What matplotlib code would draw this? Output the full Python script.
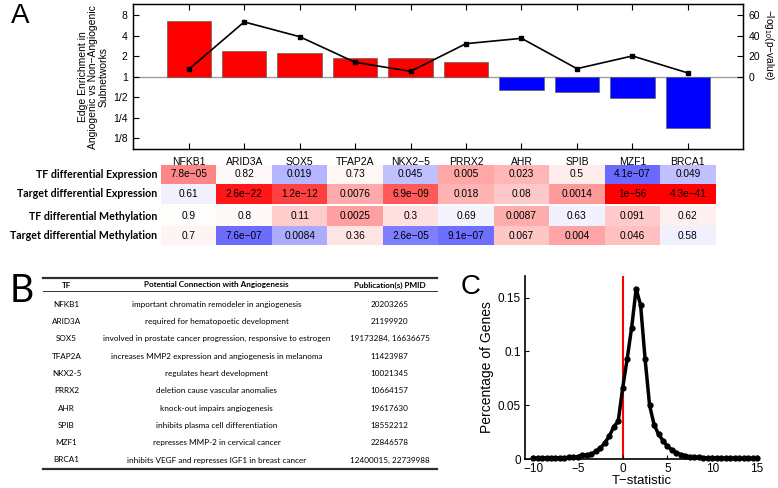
import numpy as np
import matplotlib
matplotlib.use("Agg")
import matplotlib.pyplot as plt
from matplotlib.colors import LinearSegmentedColormap, Normalize
from matplotlib.lines import Line2D
from matplotlib.ticker import FixedLocator, FixedFormatter, NullLocator

plt.rcParams['font.family'] = ['Liberation Sans', 'DejaVu Sans']
plt.rcParams['mathtext.fontset'] = 'custom'
plt.rcParams['mathtext.rm'] = 'Liberation Sans'
plt.rcParams['axes.unicode_minus'] = True

# ---------------- data ----------------
tfs = ["NFKB1", "ARID3A", "SOX5", "TFAP2A", "NKX2-5", "PRRX2", "AHR", "SPIB", "MZF1", "BRCA1"]
edge_enrichment = [6.6, 2.35, 2.25, 1.88, 1.88, 1.62, 0.63, 0.59, 0.49, 0.178]
neg_log10_p = [7.1, 53.4, 39.0, 14.0, 5.2, 32.2, 37.4, 7.8, 20.2, 3.6]
enrich_ticks = [1/8, 1/4, 1/2, 1, 2, 4, 8]
enrich_tick_labels = ["1/8", "1/4", "1/2", "1", "2", "4", "8"]
p_ticks = [0, 20, 40, 60]

row_names = ["TF differential Expression", "Target differential Expression",
             "TF differential Methylation", "Target differential Methylation"]
tf_expr_p = ["7.8e-05", "0.82", "0.019", "0.73", "0.045", "0.005", "0.023", "0.5", "4.1e-07", "0.049"]
tf_expr_dir = [1, 1, -1, 1, -1, 1, 1, 1, -1, -1]
target_expr_p = ["0.61", "2.6e-22", "1.2e-12", "0.0076", "6.9e-09", "0.018", "0.08", "0.0014", "1e-56", "4.3e-41"]
target_expr_dir = [-1, 1, 1, 1, 1, 1, 1, 1, 1, 1]
tf_meth_p = ["0.9", "0.8", "0.11", "0.0025", "0.3", "0.69", "0.0087", "0.63", "0.091", "0.62"]
tf_meth_dir = [1, 1, 1, 1, 1, -1, 1, -1, 1, 1]
target_meth_p = ["0.7", "7.6e-07", "0.0084", "0.36", "2.6e-05", "9.1e-07", "0.067", "0.004", "0.046", "0.58"]
target_meth_dir = [1, -1, -1, 1, -1, -1, 1, 1, 1, -1]

table_header = ["TF", "Potential Connection with Angiogenesis", "Publication(s) PMID"]
table_tfs = ["NFKB1", "ARID3A", "SOX5", "TFAP2A", "NKX2-5", "PRRX2", "AHR", "SPIB", "MZF1", "BRCA1"]
table_connection = ["important chromatin remodeler in angiogenesis",
                    "required for hematopoetic development",
                    "involved in prostate cancer progression, responsive to estrogen",
                    "increases MMP2 expression and angiogenesis in melanoma",
                    "regulates heart development",
                    "deletion cause vascular anomalies",
                    "knock-out impairs angiogenesis",
                    "inhibits plasma cell differentiation",
                    "represses MMP-2 in cervical cancer",
                    "inhibits VEGF and represses IGF1 in breast cancer"]
table_pmid = ["20203265", "21199920", "19173284, 16636675", "11423987", "10021345",
              "10664157", "19617630", "18552212", "22846578", "12400015, 22739988"]

t_statistic = [-10, -9.5, -9, -8.5, -8, -7.5, -7, -6.5, -6, -5.5, -5, -4.5, -4, -3.5, -3,
               -2.5, -2, -1.5, -1, -0.5, 0, 0.5, 1, 1.5, 2, 2.5, 3, 3.5, 4, 4.5, 5,
               5.5, 6, 6.5, 7, 7.5, 8, 8.5, 9, 9.5, 10, 10.5, 11, 11.5, 12, 12.5, 13,
               13.5, 14, 14.5, 15]
pct_genes = [0.0010, 0.0008, 0.0008, 0.0010, 0.0010, 0.0012, 0.0010, 0.0012, 0.0015, 0.0015,
             0.0022, 0.0035, 0.0038, 0.0045, 0.0070, 0.0100, 0.0150, 0.0210, 0.0300, 0.0350,
             0.0660, 0.0930, 0.1220, 0.1580, 0.1430, 0.0930, 0.0500, 0.0320, 0.0230, 0.0170,
             0.0120, 0.0085, 0.0060, 0.0040, 0.0030, 0.0022, 0.0016, 0.0014, 0.0012, 0.0010,
             0.0010, 0.0008, 0.0008, 0.0007, 0.0007, 0.0006, 0.0006, 0.0006, 0.0005, 0.0005,
             0.0005]

# ---------------- layout helpers ----------------
W, H = 778, 488
fig = plt.figure(figsize=(W / 100, H / 100), dpi=100)


def fx(x):
    return x / W


def fy(y):
    return 1 - y / H


def axrect(x0, y0, x1, y1):
    return [fx(x0), fy(y1), (x1 - x0) / W, (y1 - y0) / H]


def fit_width(texts, target_px):
    fig.canvas.draw()
    r = fig.canvas.get_renderer()
    w = max(t.get_window_extent(r).width for t in texts)
    s = target_px / w
    for t in texts:
        t.set_fontsize(t.get_fontsize() * s)


MINUS = "\u2212"

# ---------------- Panel A: bars + line ----------------
axA = fig.add_axes(axrect(133.3, 4.3, 743.3, 149))
x = np.arange(len(tfs))
enr = np.array(edge_enrichment)
bar_colors = ["#ff0000" if v > 1 else "#0000ff" for v in enr]
axA.set_yscale("log", base=2)
axA.axhline(1, color="#a0a0a0", lw=1.0, zorder=1)
axA.bar(x, enr - 1, bottom=1, width=0.8, color=bar_colors, edgecolor="#606060",
        linewidth=0.5, zorder=2)
axA.set_xlim(-1, 10)
axA.set_ylim(2 ** -3.53, 2 ** 3.53)
axA.yaxis.set_major_locator(FixedLocator(enrich_ticks))
axA.yaxis.set_major_formatter(FixedFormatter(enrich_tick_labels))
axA.yaxis.set_minor_locator(NullLocator())
axA.set_xticks(x)
axA.set_xticklabels([t.replace("-", MINUS) for t in tfs])
axA.tick_params(axis="both", direction="in", length=4, width=0.8, labelsize=7.5,
                top=True, right=False, pad=4)
axA.tick_params(axis="x", pad=6)
for s in axA.spines.values():
    s.set_linewidth(1.0)
axA.text(-0.066, 0.5, "Edge Enrichment in\nAngiogenic vs Non" + MINUS + "Angiogenic\nSubnetworks",
         transform=axA.transAxes, rotation=90, ha="center", va="center",
         multialignment="center", fontsize=7.5, linespacing=1.05)

ax2 = axA.twinx()
ax2.plot(x, neg_log10_p, color="black", lw=1.2, marker="s", ms=3, zorder=3)
ax2.set_ylim(-70.6, 70.6)
ax2.set_yticks(p_ticks)
ax2.tick_params(axis="y", direction="in", length=4, width=0.8, labelsize=7.5, pad=4)
ax2.text(1.042, 0.72, MINUS + "log$_{10}$(p" + MINUS + "value)", transform=ax2.transAxes,
         rotation=270, ha="center", va="center", fontsize=7.3)

# ---------------- Panel A: heatmap table ----------------
axH = fig.add_axes(axrect(133.3, 164.7, 743.3, 245.3))
rows_p = [tf_expr_p, target_expr_p, tf_meth_p, target_meth_p]
rows_dir = [tf_expr_dir, target_expr_dir, tf_meth_dir, target_meth_dir]
score = []
for pl, dl in zip(rows_p, rows_dir):
    s = -np.log10(np.array([float(p) for p in pl]))
    inten = np.clip(np.log1p(s) / np.log1p(30), 0, 1)
    score.append(np.array(dl) * inten)
gap = 0.15
Z = np.vstack([score[0], score[1], np.full(len(tfs), np.nan), score[2], score[3]])
Z = np.ma.masked_invalid(Z)
yedges = np.array([0, 1, 2, 2 + gap, 3 + gap, 4 + gap])
xedges = np.arange(len(tfs) + 1) - 0.5
cmap = LinearSegmentedColormap.from_list("bwr_m", [(0, 0, 1), (1, 1, 1), (1, 0, 0)])
axH.pcolormesh(xedges, yedges, Z, cmap=cmap, norm=Normalize(-1, 1), shading="flat")
axH.set_xlim(-1, 10)
axH.set_ylim(4 + gap, 0)
axH.axis("off")
row_centers = [0.5, 1.5, 2.5 + gap, 3.5 + gap]
for r, pl in enumerate(rows_p):
    for c, p in enumerate(pl):
        axH.text(c, row_centers[r], p.replace("-", MINUS), ha="center", va="center",
                 fontsize=7.3)
row_txts = []
for r, name in enumerate(row_names):
    row_txts.append(axH.text(-0.565, row_centers[r], name, ha="right", va="center",
                             fontweight="bold", family="Lato", fontsize=8, clip_on=False))

# ---------------- Panel B: table ----------------
tx0, tx1 = 43.3, 436.7
fig.add_artist(Line2D([fx(tx0), fx(tx1)], [fy(277.7), fy(277.7)], color="#303030", lw=1.6))
fig.add_artist(Line2D([fx(tx0), fx(tx1)], [fy(290.7), fy(290.7)], color="#303030", lw=0.7))
fig.add_artist(Line2D([fx(tx0), fx(tx1)], [fy(469.0), fy(469.0)], color="#303030", lw=1.6))
col_x = [66.5, 216.5, 389.5]
hdr = []
for cx, h in zip(col_x, table_header):
    hdr.append(fig.text(fx(cx), fy(285), h, ha="center", va="center", family="Lato",
                        fontweight="bold", fontsize=5.5))
body = []
for i in range(len(table_tfs)):
    yy = 304.3 + i * 17.3
    for cx, val in zip(col_x, (table_tfs[i], table_connection[i], table_pmid[i])):
        body.append(fig.text(fx(cx), fy(yy), val, ha="center", va="center",
                             family="Lato", fontsize=5.5))

# ---------------- Panel C ----------------
axC = fig.add_axes(axrect(525, 276, 758, 459))
axC.axvline(0, color="#ff0000", lw=1.5, zorder=1)
axC.plot(t_statistic, pct_genes, color="black", lw=2.5, marker="o", ms=3.5, zorder=2,
         clip_on=False)
axC.set_xlim(-10.9, 15.1)
axC.set_ylim(0, 0.17)
axC.set_xticks([-10, -5, 0, 5, 10, 15])
axC.set_yticks([0, 0.05, 0.1, 0.15])
axC.set_yticklabels(["0", "0.05", "0.1", "0.15"])
axC.spines["top"].set_visible(False)
axC.spines["right"].set_visible(False)
for s in ("left", "bottom"):
    axC.spines[s].set_linewidth(1.2)
axC.tick_params(direction="in", length=3, labelsize=8.5, pad=3)
axC.set_xlabel("T" + MINUS + "statistic", fontsize=9.5, labelpad=0)
axC.set_ylabel("Percentage of Genes", fontsize=10, labelpad=3)

# ---------------- panel letters ----------------
fig.text(fx(11), fy(16), "A", fontsize=20, ha="left", va="center")
fig.text(fx(10), fy(291), "B", fontsize=27, ha="left", va="center", family="Lato")
fig.text(fx(461), fy(287), "C", fontsize=20, ha="left", va="center")

# width calibration of text blocks
fit_width(row_txts, 148)
fit_width([body[3 * 9 + 1]], 179)
fs_tab = body[3 * 9 + 1].get_fontsize()
for t in body + hdr:
    t.set_fontsize(fs_tab)

fig.savefig("out.png", dpi=100)
